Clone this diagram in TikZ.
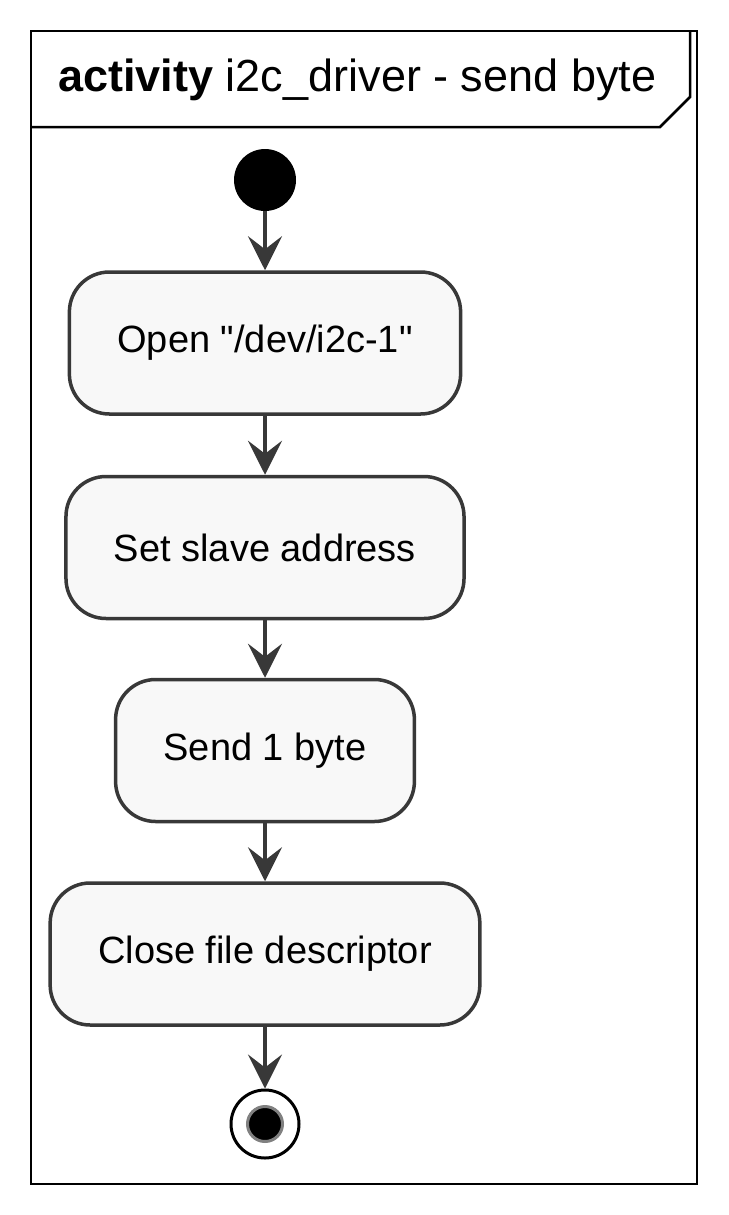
\documentclass[tikz,border=0pt]{standalone}
\usepackage{fontspec}
\setmainfont{Liberation Sans}
\usetikzlibrary{arrows.meta,calc,positioning}
\definecolor{uml-line}{HTML}{383838}
\definecolor{uml-fill}{HTML}{F8F8F8}

\begin{document}
\begin{tikzpicture}[x=0.5pt,y=-0.5pt,
  >={Stealth[length=17pt,width=17pt,inset=6.5pt]},
  action/.style={draw=uml-line,fill=uml-fill,line width=1.75pt,rounded corners=20pt,
    minimum height=71pt,inner xsep=24pt,font=\fontsize{19}{23}\selectfont},
  flow/.style={->,draw=uml-line,fill=uml-line,line width=1.75pt}]
  \useasboundingbox (0,0) rectangle (728,1215);

  % Ramme
  \draw[line width=1.25pt] (31,31) rectangle (697,1184);
  \draw[line width=1.25pt] (31,127) -- (660,127) -- (690,97) -- (690,31);
  \node[anchor=west,inner sep=0pt,font=\fontsize{22.5}{27}\selectfont] (title) at (58,80)
    {\textbf{activity} i2c\_driver - send byte};

  % Start og slut
  \node[circle,fill=black,minimum size=31pt,inner sep=0pt] (start) at (265,180) {};
  \node[circle,draw=black,fill=white,line width=1.5pt,minimum size=34pt,inner sep=0pt] (stop) at (265,1124) {};
  \node[circle,fill=black,draw=gray,line width=1.5pt,minimum size=17.5pt,inner sep=0pt] (stopdot) at (stop) {};

  % Handlinger
  \node[action] (open) at (265,343) {Open \textquotedbl/dev/i2c-1\textquotedbl};
  \node[action] (addr) at (265,547.5) {Set slave address};
  \node[action] (send) at (265,750.5) {Send 1 byte};
  \node[action] (close) at (265,954) {Close file descriptor};

  % Pile
  \draw[flow] (start) -- (open);
  \draw[flow] (open) -- (addr);
  \draw[flow] (addr) -- (send);
  \draw[flow] (send) -- (close);
  \draw[flow] (close) -- (stop);
\end{tikzpicture}
\end{document}
